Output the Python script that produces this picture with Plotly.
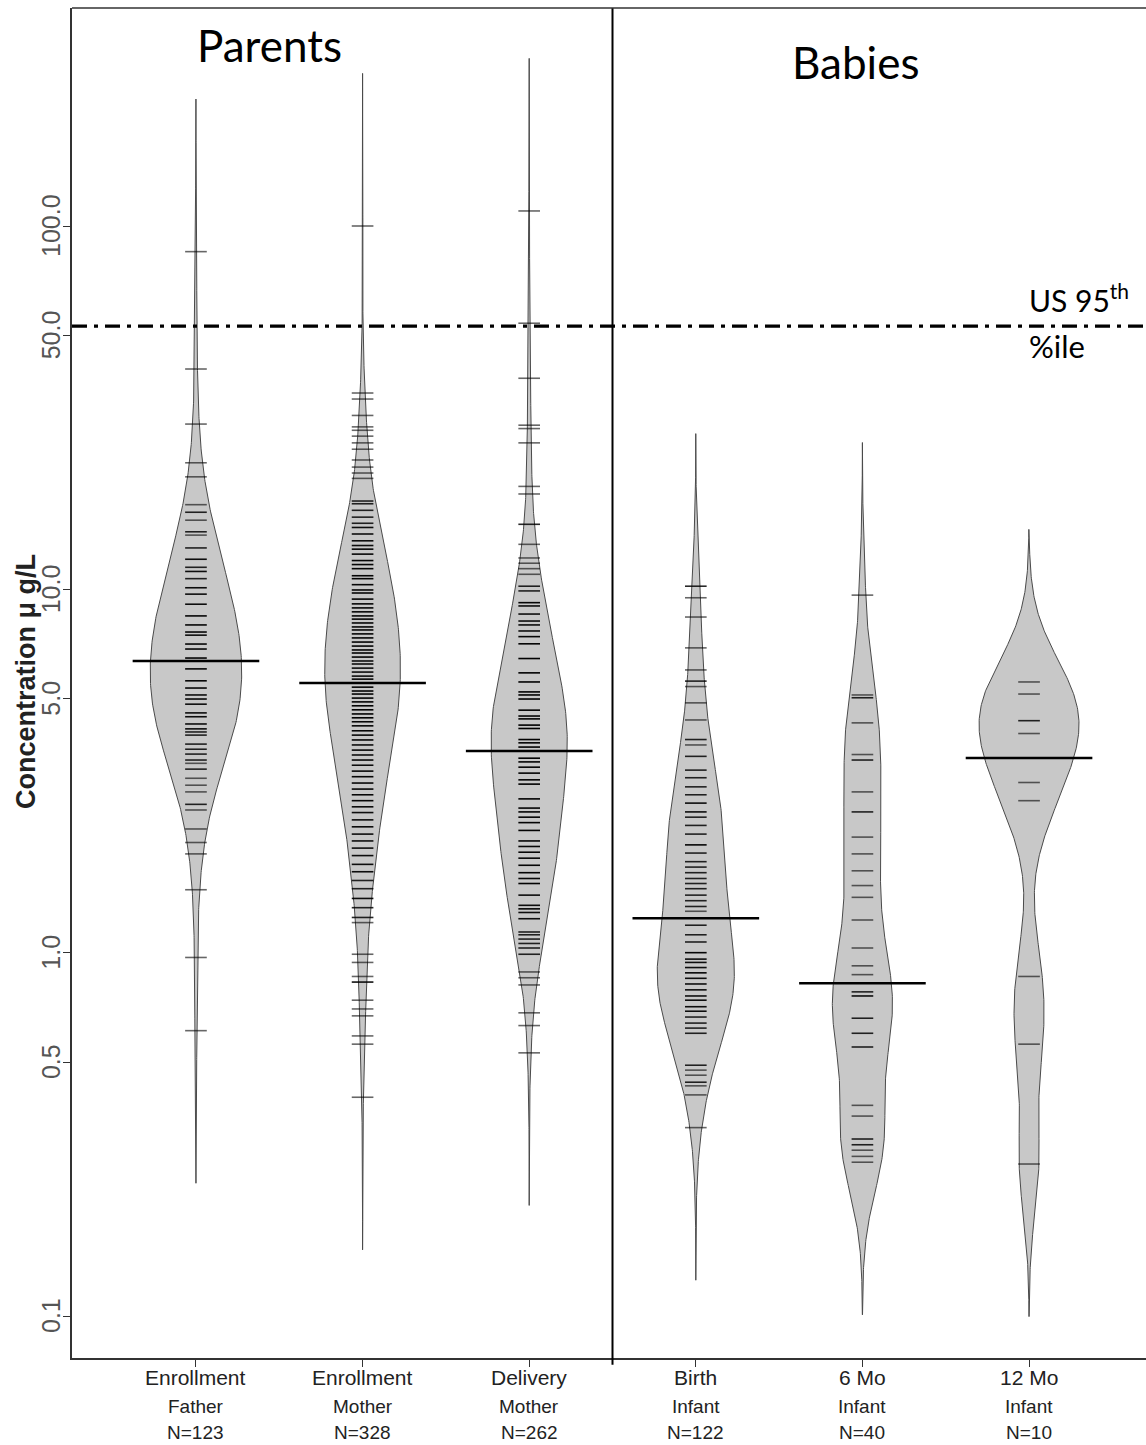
import numpy as np
import plotly.graph_objects as go

# ---------------- data (µg/L) ----------------
group_names = ["Enrollment", "Enrollment", "Delivery", "Birth", "6 Mo", "12 Mo"]
group_subjects = ["Father", "Mother", "Mother", "Infant", "Infant", "Infant"]

father_levels = [85, 40.4, 28.5, 22.3, 20.4, 17.1, 16.3, 15.5, 14.4, 14.1, 13.0, 12.1, 11.5, 11.2,
                 10.7, 10.1, 9.7, 9.1, 8.45, 7.98, 7.63, 7.48, 7.07, 6.85, 6.47, 6.35, 6.04, 5.60,
                 5.35, 5.12, 4.99, 4.83, 4.57, 4.46, 4.26, 4.13, 4.05, 3.97, 3.75, 3.63, 3.52, 3.39,
                 3.32, 3.20, 3.02, 2.89, 2.77, 2.56, 2.47, 2.19, 2.01, 1.87, 1.49, 0.97, 0.61]
father_counts = [1, 1, 1, 1, 1, 1, 2, 1, 2, 1, 2, 3, 2, 3,
                 2, 3, 3, 3, 4, 4, 4, 3, 4, 4, 5, 1, 4, 4,
                 4, 3, 4, 3, 3, 3, 3, 3, 2, 2, 2, 2, 2, 2,
                 1, 2, 1, 1, 1, 2, 1, 1, 1, 1, 1, 1, 1]

mother_levels = [100, 34.7, 33.4, 30.1, 28.0, 27.4, 26.4, 25.3, 24.3, 22.7, 21.7, 20.9, 20.2,
                 17.5, 17.2, 16.5, 15.8, 15.2, 14.8, 14.2, 13.6, 13.2, 12.9, 12.5, 12.0, 11.7, 11.4,
                 10.9, 10.7, 10.3, 9.96, 9.77, 9.40, 9.12, 8.89, 8.67, 8.45, 8.28, 8.08, 7.88, 7.73,
                 7.54, 7.35,
                 7.16, 6.98, 6.81, 6.68, 6.51, 6.35, 6.23, 6.07, 5.92, 5.77, 5.66,
                 5.52, 5.38, 5.25, 5.15, 5.02, 4.90, 4.78, 4.66, 4.54, 4.43, 4.32, 4.21, 4.08, 3.97,
                 3.85, 3.73, 3.61, 3.50, 3.39, 3.28,
                 3.16, 3.05, 2.93, 2.82, 2.72, 2.62,
                 2.52, 2.43, 2.32, 2.22, 2.12, 2.03, 1.94,
                 1.85, 1.75, 1.67, 1.58, 1.50,
                 1.41, 1.33, 1.25,
                 1.21, 0.99, 0.94, 0.86, 0.83, 0.74, 0.70, 0.67, 0.59, 0.56, 0.40]
mother_counts = [1, 1, 1, 1, 1, 1, 1, 1, 1, 1, 1, 1, 1,
                 2, 2, 2, 2, 2, 3, 3, 3, 3, 4, 4, 4, 4, 4,
                 4, 4, 4, 4, 4, 4, 4, 4, 4, 4, 4, 4, 4, 4,
                 4, 4,
                 5, 5, 5, 5, 5, 3, 3, 3, 3, 3, 4,
                 5, 5, 5, 5, 5, 5, 5, 5, 5, 5, 4, 4, 4, 4,
                 4, 3, 4, 3, 4, 3,
                 4, 4, 4, 4, 4, 4,
                 3, 3, 3, 3, 3, 3, 3,
                 3, 3, 3, 2, 2,
                 3, 2, 2,
                 1, 1, 1, 1, 3, 1, 1, 1, 1, 1, 1]

delivery_levels = [110, 54, 38.1, 28.3, 27.7, 25.3, 19.2, 18.3, 15.1, 13.3, 12.2, 11.8, 11.4, 11.0,
                   10.2, 9.9, 9.19, 9.0, 8.55, 8.18, 7.98, 7.68, 7.41,
                   7.08, 6.45, 5.89, 5.56, 5.22, 5.12, 4.99, 4.65, 4.48, 4.40, 4.23, 4.14, 3.86, 3.78,
                   3.68, 3.59, 3.43, 3.35, 3.24, 3.12, 2.99, 2.91, 2.65, 2.50, 2.44, 2.36, 2.28, 2.17,
                   2.03, 1.96, 1.89, 1.82, 1.74, 1.66, 1.60, 1.55, 1.44, 1.35, 1.32, 1.29, 1.24, 1.14,
                   1.12, 1.09, 1.06, 1.03, 0.99, 0.885, 0.853, 0.815, 0.683, 0.630, 0.530]
delivery_counts = [1, 1, 1, 1, 1, 1, 1, 1, 2, 1, 1, 1, 1, 1,
                   2, 2, 4, 3, 3, 3, 3, 3, 4,
                   4, 6, 8, 6, 5, 5, 6, 7, 5, 5, 6, 5, 7, 7,
                   6, 2, 5, 5, 5, 5, 5, 6, 6, 4, 5, 5, 5, 5,
                   5, 4, 4, 4, 4, 5, 4, 5, 3, 3, 4, 3, 3, 2,
                   2, 2, 2, 2, 2, 1, 1, 1, 1, 1, 1]

birth_levels = [10.2, 9.48, 8.39, 6.90, 6.00, 5.59, 5.40, 4.87, 4.37, 3.86, 3.73, 3.47, 3.18, 3.03,
                2.86, 2.72, 2.58, 2.44, 2.36, 2.24, 2.12, 1.98, 1.88, 1.78, 1.72, 1.66, 1.60, 1.55,
                1.50, 1.44, 1.39, 1.34, 1.30, 1.19, 1.12, 1.07, 1.00, 0.96, 0.94, 0.91, 0.88, 0.85,
                0.82, 0.79, 0.76, 0.74, 0.71, 0.69, 0.665, 0.64, 0.62, 0.60, 0.49, 0.475, 0.46, 0.44,
                0.43, 0.406, 0.33]
birth_counts = [2, 1, 1, 1, 1, 2, 1, 1, 1, 2, 1, 2, 2, 2,
                2, 2, 3, 3, 2, 2, 2, 4, 2, 2, 2, 2, 2, 2,
                2, 2, 2, 2, 1, 2, 2, 2, 4, 3, 3, 3, 4, 3,
                3, 3, 3, 3, 3, 3, 2, 2, 2, 2, 2, 1, 1, 2,
                1, 1, 1]

mo6_levels = [9.64, 5.12, 5.03, 4.29, 3.51, 3.39, 2.77, 2.44, 2.08, 1.87, 1.68, 1.53, 1.42, 1.23,
              1.03, 0.92, 0.87, 0.78, 0.76, 0.66, 0.60, 0.55, 0.38, 0.355, 0.307, 0.296, 0.286,
              0.275, 0.265]
mo6_counts = [1, 1, 2, 1, 1, 2, 1, 2, 1, 1, 1, 1, 1, 1,
              1, 1, 1, 2, 3, 2, 2, 2, 1, 1, 2, 2, 1,
              1, 1]

mo12_levels = [5.56, 5.15, 4.35, 4.01, 2.94, 2.62, 0.86, 0.56, 0.262]
mo12_counts = [1, 1, 2, 1, 1, 1, 1, 1, 1]

us95_value = 53.0
y_tick_values = [0.1, 0.5, 1.0, 5.0, 10.0, 50.0, 100.0]
y_tick_text = ["0.1", "0.5", "1.0", "5.0", "10.0", "50.0", "100.0"]

groups = [(father_levels, father_counts), (mother_levels, mother_counts),
          (delivery_levels, delivery_counts), (birth_levels, birth_counts),
          (mo6_levels, mo6_counts), (mo12_levels, mo12_counts)]

# ---------------- style ----------------
BW = 0.14          # common kernel bandwidth (log10 units)
CUT = 3.0
HALF_MAX = 0.30    # half width of widest bean (x units)
LINE_HALF = 0.065  # half length of bean lines
AVG_HALF = 0.38
BEAN_FILL = "#c8c8c8"
BEAN_EDGE = "#4a4a4a"
X_RANGE = [-0.744, 5.702]
Y_RANGE = [-1.1156, 2.600]

fig = go.Figure()

dens_list = []
for levels, counts in groups:
    logs = np.log10(np.repeat(np.array(levels, float), counts))
    grid = np.linspace(logs.min() - CUT * BW, logs.max() + CUT * BW, 500)
    d = np.exp(-0.5 * ((grid[:, None] - logs[None, :]) / BW) ** 2).sum(axis=1)
    d /= (len(logs) * BW * np.sqrt(2 * np.pi))
    dens_list.append((grid, d, logs))
scale = HALF_MAX / max(d.max() for _, d, _ in dens_list)

for i, (grid, d, logs) in enumerate(dens_list):
    xs = np.concatenate([i + d * scale, (i - d * scale)[::-1]])
    ys = np.concatenate([10 ** grid, (10 ** grid)[::-1]])
    fig.add_trace(go.Scatter(x=xs, y=ys, mode="lines", fill="toself", fillcolor=BEAN_FILL,
                             line=dict(color=BEAN_EDGE, width=1), hoverinfo="skip"))

for i, (levels, counts) in enumerate(groups):
    for c in sorted(set(counts)):
        xs, ys = [], []
        for v, k in zip(levels, counts):
            if k == c:
                xs += [i - LINE_HALF, i + LINE_HALF, None]
                ys += [v, v, None]
        alpha = 1 - (1 - 0.6) ** c
        fig.add_trace(go.Scatter(x=xs, y=ys, mode="lines",
                                 line=dict(color=f"rgba(0,0,0,{alpha:.3f})", width=1.6),
                                 hoverinfo="skip"))

for i, (grid, d, logs) in enumerate(dens_list):
    m = 10 ** np.median(logs)
    fig.add_trace(go.Scatter(x=[i - AVG_HALF, i + AVG_HALF], y=[m, m], mode="lines",
                             line=dict(color="black", width=2.5), hoverinfo="skip"))

fig.add_trace(go.Scatter(x=X_RANGE, y=[us95_value, us95_value], mode="lines",
                         line=dict(color="black", width=3.2, dash="15px,7px,4px,7px"),
                         hoverinfo="skip"))

fig.add_shape(type="line", xref="x", yref="paper", x0=2.5, x1=2.5, y0=-0.005, y1=1,
              line=dict(color="black", width=2))
fig.add_shape(type="line", xref="paper", yref="paper", x0=0, x1=1, y0=1, y1=1,
              line=dict(color="#333333", width=1.5))

SANS = "Liberation Sans, Arial, sans-serif"
for i, (levels, counts) in enumerate(groups):
    n = int(np.sum(counts))
    for txt, shift, size in [(group_names[i], -19, 21), (group_subjects[i], -48, 19), (f"N={n}", -74, 19)]:
        fig.add_annotation(x=i, xref="x", y=0, yref="paper", yshift=shift, text=txt,
                           showarrow=False, yanchor="middle", xanchor="center",
                           font=dict(family=SANS, size=size, color="#222222"))

for v, t in zip(y_tick_values, y_tick_text):
    fig.add_annotation(x=0, xref="paper", xshift=-21, y=np.log10(v), yref="y", text=t,
                       textangle=-90, showarrow=False, xanchor="center", yanchor="middle",
                       font=dict(family=SANS, size=25, color="#555555"))

CAL = "Lato, Open Sans, sans-serif"
fig.add_annotation(x=0.444, xref="x", y=0.9726, yref="paper", text="Parents", showarrow=False,
                   xanchor="center", yanchor="middle", font=dict(family=CAL, size=44, color="black"))
fig.add_annotation(x=3.96, xref="x", y=0.960, yref="paper", text="Babies", showarrow=False,
                   xanchor="center", yanchor="middle", font=dict(family=CAL, size=44, color="black"))
fig.add_annotation(x=4.99, xref="x", y=0.785, yref="paper", text="US 95<sup>th</sup>",
                   showarrow=False, xanchor="left", yanchor="middle",
                   font=dict(family=CAL, size=30, color="black"))
fig.add_annotation(x=4.99, xref="x", y=0.7496, yref="paper", text="%ile",
                   showarrow=False, xanchor="left", yanchor="middle",
                   font=dict(family=CAL, size=31, color="black"))

fig.add_annotation(x=0, xref="paper", xshift=-46, y=0.5007, yref="paper",
                   text="<b>Concentration \u03bc g/L</b>", textangle=-90, showarrow=False,
                   xanchor="center", yanchor="middle",
                   font=dict(family=SANS, size=27, color="#222222"))

fig.update_layout(
    width=1146, height=1445,
    margin=dict(l=72, r=0, t=8, b=87),
    plot_bgcolor="white", paper_bgcolor="white",
    showlegend=False,
    xaxis=dict(range=X_RANGE, tickvals=list(range(6)), showticklabels=False, ticks="outside",
               ticklen=7, tickcolor="#333333", showline=True, linecolor="#333333", linewidth=2,
               showgrid=False, zeroline=False, fixedrange=True),
    yaxis=dict(type="log", range=Y_RANGE, tickvals=y_tick_values, showticklabels=False,
               ticks="outside", ticklen=7, tickcolor="#333333",
               showline=True, linecolor="#333333", linewidth=2, showgrid=False, zeroline=False,
               fixedrange=True),
)

fig.write_html("out.html")
